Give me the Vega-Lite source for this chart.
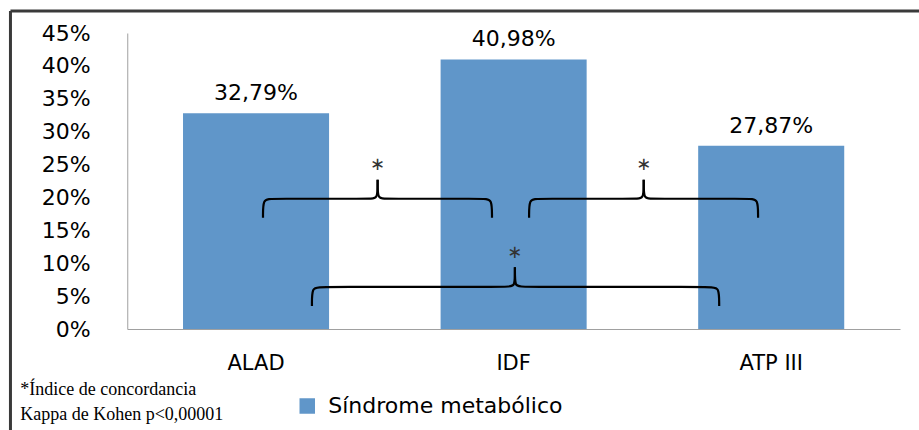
{
  "$schema": "https://vega.github.io/schema/vega-lite/v6.json",
  "width": 772.75,
  "height": 296,
  "autosize": {"type": "none"},
  "padding": {"left": 127.25, "top": 33, "right": 19, "bottom": 101},
  "background": "white",
  "title": {
    "text": ["*Índice de concordancia", "Kappa de Kohen p<0,00001"],
    "orient": "bottom",
    "anchor": "start",
    "frame": "group",
    "font": "Liberation Serif",
    "fontSize": 18,
    "fontWeight": "normal",
    "lineHeight": 25,
    "color": "#000",
    "baseline": "alphabetic",
    "dx": -107,
    "dy": -60,
    "offset": 19
  },
  "datasets": {
    "barras": [
      {"criterio": "ALAD", "valor": 0.3279, "serie": "Síndrome metabólico"},
      {"criterio": "IDF", "valor": 0.4098, "serie": "Síndrome metabólico"},
      {"criterio": "ATP III", "valor": 0.2787, "serie": "Síndrome metabólico"}
    ],
    "llaves": [
      {"parte": "A1", "i": 0, "u": 0.527, "v": 0.169},
      {"parte": "A1", "i": 1, "u": 0.527, "v": 0.198},
      {"parte": "A1", "i": 2, "u": 0.557, "v": 0.198},
      {"parte": "A1", "i": 3, "u": 0.952, "v": 0.198},
      {"parte": "A1", "i": 4, "u": 0.972, "v": 0.198},
      {"parte": "A1", "i": 5, "u": 0.972, "v": 0.227},
      {"parte": "A2", "i": 0, "u": 1.416, "v": 0.169},
      {"parte": "A2", "i": 1, "u": 1.416, "v": 0.198},
      {"parte": "A2", "i": 2, "u": 1.386, "v": 0.198},
      {"parte": "A2", "i": 3, "u": 0.992, "v": 0.198},
      {"parte": "A2", "i": 4, "u": 0.972, "v": 0.198},
      {"parte": "A2", "i": 5, "u": 0.972, "v": 0.227},
      {"parte": "B1", "i": 0, "u": 1.56, "v": 0.169},
      {"parte": "B1", "i": 1, "u": 1.56, "v": 0.198},
      {"parte": "B1", "i": 2, "u": 1.59, "v": 0.198},
      {"parte": "B1", "i": 3, "u": 1.985, "v": 0.198},
      {"parte": "B1", "i": 4, "u": 2.005, "v": 0.198},
      {"parte": "B1", "i": 5, "u": 2.005, "v": 0.227},
      {"parte": "B2", "i": 0, "u": 2.449, "v": 0.169},
      {"parte": "B2", "i": 1, "u": 2.449, "v": 0.198},
      {"parte": "B2", "i": 2, "u": 2.419, "v": 0.198},
      {"parte": "B2", "i": 3, "u": 2.025, "v": 0.198},
      {"parte": "B2", "i": 4, "u": 2.005, "v": 0.198},
      {"parte": "B2", "i": 5, "u": 2.005, "v": 0.227},
      {"parte": "C1", "i": 0, "u": 0.717, "v": 0.035},
      {"parte": "C1", "i": 1, "u": 0.717, "v": 0.064},
      {"parte": "C1", "i": 2, "u": 0.747, "v": 0.064},
      {"parte": "C1", "i": 3, "u": 1.485, "v": 0.064},
      {"parte": "C1", "i": 4, "u": 1.505, "v": 0.064},
      {"parte": "C1", "i": 5, "u": 1.505, "v": 0.094},
      {"parte": "C2", "i": 0, "u": 2.298, "v": 0.035},
      {"parte": "C2", "i": 1, "u": 2.298, "v": 0.064},
      {"parte": "C2", "i": 2, "u": 2.268, "v": 0.064},
      {"parte": "C2", "i": 3, "u": 1.525, "v": 0.064},
      {"parte": "C2", "i": 4, "u": 1.505, "v": 0.064},
      {"parte": "C2", "i": 5, "u": 1.505, "v": 0.094}
    ],
    "asteriscos": [
      {"u": 0.972, "v": 0.249},
      {"u": 2.005, "v": 0.249},
      {"u": 1.505, "v": 0.1155}
    ],
    "marco": [
      {"u": -0.4534, "u2": 3.08, "v": 0.4834, "v2": 0.4834},
      {"u": -0.4534, "u2": -0.4534, "v": 0.4834, "v2": -0.16}
    ]
  },
  "layer": [
    {
      "data": {"name": "barras"},
      "mark": {"type": "bar"},
      "encoding": {
        "x": {
          "field": "criterio",
          "type": "nominal",
          "sort": ["ALAD", "IDF", "ATP III"],
          "scale": {"paddingInner": 0.433, "paddingOuter": 0.2165},
          "axis": {
            "title": null,
            "labelAngle": 0,
            "ticks": false,
            "labelPadding": 23,
            "labelFontSize": 21,
            "domainColor": "#a0a0a0"
          }
        },
        "y": {
          "field": "valor",
          "type": "quantitative",
          "title": null,
          "scale": {"domain": [0, 0.45], "nice": false},
          "axis": {
            "values": [0, 0.05, 0.1, 0.15, 0.2, 0.25, 0.3, 0.35, 0.4, 0.45],
            "format": ".0%",
            "labelOverlap": false
          }
        },
        "color": {
          "field": "serie",
          "type": "nominal",
          "scale": {"range": ["#6096c9"]},
          "legend": {
            "orient": "none",
            "legendX": 169,
            "legendY": 362,
            "title": null,
            "padding": 0,
            "symbolType": "square",
            "symbolSize": 240,
            "symbolStrokeWidth": 0,
            "labelFont": "DejaVu Sans",
            "labelFontSize": 22,
            "labelLimit": 500,
            "labelOffset": 10,
            "labelColor": "#000"
          }
        }
      }
    },
    {
      "data": {"name": "barras"},
      "mark": {"type": "text", "baseline": "alphabetic", "dy": -13, "fontSize": 22, "font": "DejaVu Sans", "color": "#000"},
      "encoding": {
        "x": {
          "field": "criterio",
          "type": "nominal",
          "sort": ["ALAD", "IDF", "ATP III"],
          "scale": {"paddingInner": 0.433, "paddingOuter": 0.2165},
          "axis": null
        },
        "y": {
          "field": "valor",
          "type": "quantitative",
          "title": null,
          "scale": {"domain": [0, 0.45], "nice": false},
          "axis": {
            "values": [0, 0.05, 0.1, 0.15, 0.2, 0.25, 0.3, 0.35, 0.4, 0.45],
            "format": ".0%",
            "labelOverlap": false
          }
        },
        "text": {"field": "valor", "type": "quantitative", "format": ".2%"}
      }
    },
    {
      "data": {"name": "llaves"},
      "mark": {"type": "line", "interpolate": "basis", "color": "#000", "strokeWidth": 2.2},
      "encoding": {
        "x": {"field": "u", "type": "quantitative", "scale": {"domain": [0, 3], "nice": false, "zero": false}, "axis": null},
        "y": {
          "field": "v",
          "type": "quantitative",
          "title": null,
          "scale": {"domain": [0, 0.45], "nice": false},
          "axis": {
            "values": [0, 0.05, 0.1, 0.15, 0.2, 0.25, 0.3, 0.35, 0.4, 0.45],
            "format": ".0%",
            "labelOverlap": false
          }
        },
        "detail": {"field": "parte"},
        "order": {"field": "i", "type": "quantitative"}
      }
    },
    {
      "data": {"name": "asteriscos"},
      "mark": {"type": "text", "text": "∗", "fontSize": 18, "font": "DejaVu Sans", "baseline": "middle", "color": "#333"},
      "encoding": {
        "x": {"field": "u", "type": "quantitative", "scale": {"domain": [0, 3], "nice": false, "zero": false}, "axis": null},
        "y": {
          "field": "v",
          "type": "quantitative",
          "title": null,
          "scale": {"domain": [0, 0.45], "nice": false},
          "axis": {
            "values": [0, 0.05, 0.1, 0.15, 0.2, 0.25, 0.3, 0.35, 0.4, 0.45],
            "format": ".0%",
            "labelOverlap": false
          }
        }
      }
    },
    {
      "data": {"name": "marco"},
      "mark": {"type": "rule", "color": "#3a3a3a", "strokeWidth": 3},
      "encoding": {
        "x": {"field": "u", "type": "quantitative", "scale": {"domain": [0, 3], "nice": false, "zero": false}, "axis": null},
        "x2": {"field": "u2"},
        "y": {
          "field": "v",
          "type": "quantitative",
          "title": null,
          "scale": {"domain": [0, 0.45], "nice": false},
          "axis": {
            "values": [0, 0.05, 0.1, 0.15, 0.2, 0.25, 0.3, 0.35, 0.4, 0.45],
            "format": ".0%",
            "labelOverlap": false
          }
        },
        "y2": {"field": "v2"}
      }
    }
  ],
  "resolve": {"scale": {"x": "independent"}, "axis": {"x": "independent"}},
  "config": {
    "font": "DejaVu Sans",
    "view": {"stroke": null},
    "axis": {"grid": false, "labelColor": "#000", "labelFont": "DejaVu Sans"},
    "axisY": {
      "ticks": false,
      "labelOverlap": false,
      "labelPadding": 37,
      "labelFontSize": 22,
      "domainColor": "#a0a0a0"
    },
    "locale": {
      "number": {"decimal": ",", "thousands": ".", "grouping": [3], "currency": ["", " €"]}
    }
  }
}
